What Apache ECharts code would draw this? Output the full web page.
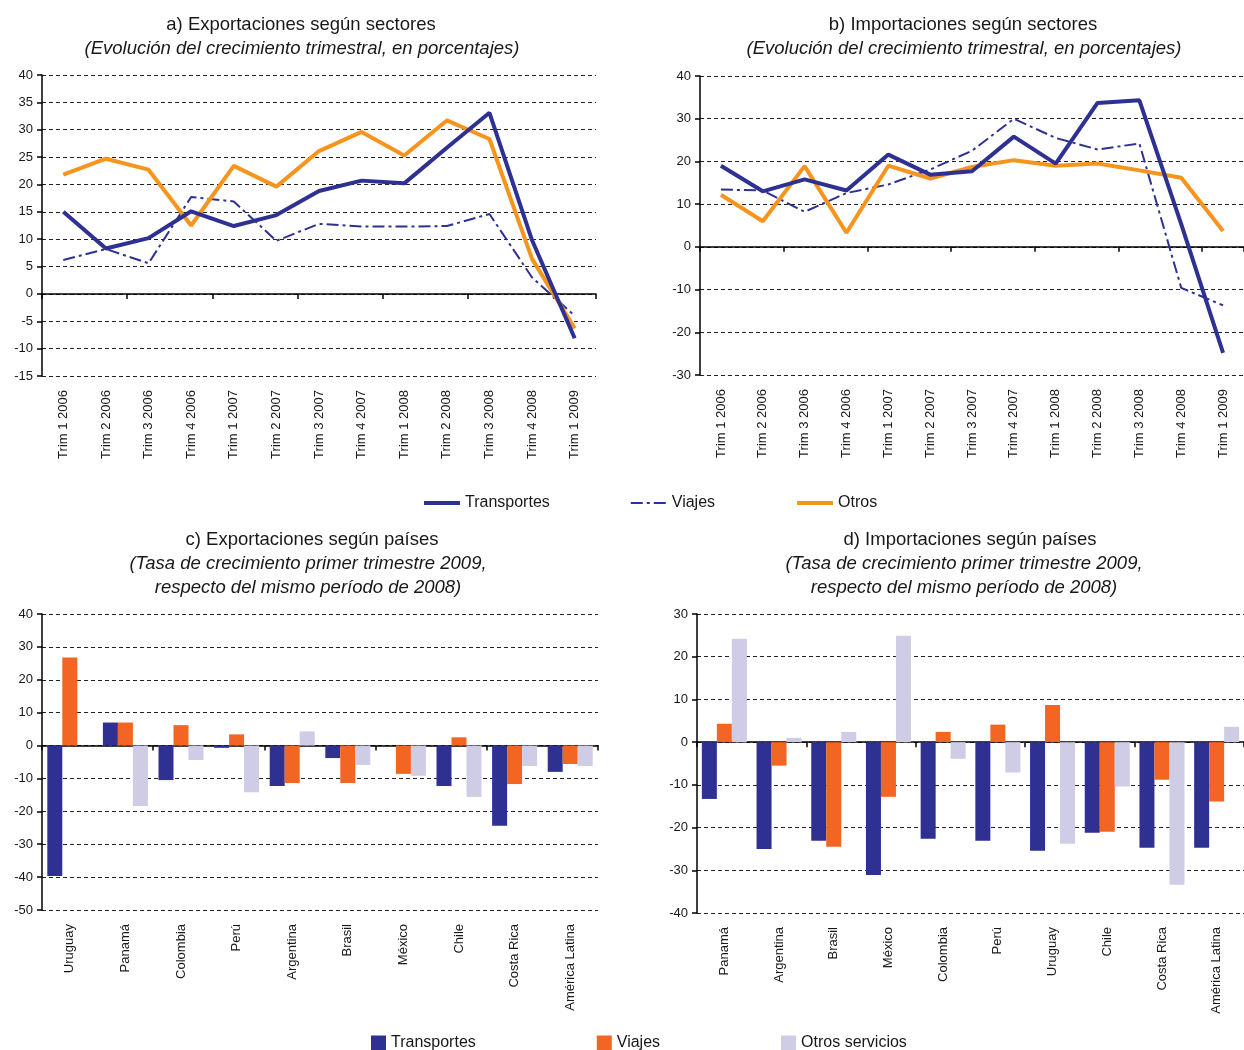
<!DOCTYPE html>
<html><head><meta charset="utf-8">
<script src="https://cdn.jsdelivr.net/npm/echarts@6/dist/echarts.min.js"></script>
<style>html,body{margin:0;background:#fff}#c{width:1244px;height:1050px}</style>
</head><body><div id="c"></div>
<script>
// quarters for panels a/b
const trimestres = ['Trim 1 2006','Trim 2 2006','Trim 3 2006','Trim 4 2006','Trim 1 2007','Trim 2 2007',
  'Trim 3 2007','Trim 4 2007','Trim 1 2008','Trim 2 2008','Trim 3 2008','Trim 4 2008','Trim 1 2009'];
// a) exports by sector
const expTransportes = [15.0, 8.3, 10.2, 15.1, 12.4, 14.4, 18.8, 20.7, 20.2, 26.7, 33.1, 9.8, -8.1];
const expViajes      = [6.2, 8.2, 5.6, 17.7, 16.9, 9.7, 12.8, 12.3, 12.3, 12.4, 14.6, 3.0, -4.0];
const expOtros       = [21.8, 24.7, 22.7, 12.5, 23.4, 19.6, 26.1, 29.6, 25.3, 31.7, 28.3, 6.4, -6.3];
// b) imports by sector
const impTransportes = [19.0, 13.0, 15.8, 13.2, 21.6, 16.9, 17.7, 25.8, 19.5, 33.7, 34.3, 5.3, -24.8];
const impViajes      = [13.4, 13.2, 8.2, 12.6, 14.6, 18.1, 22.5, 30.0, 25.5, 22.8, 24.2, -9.6, -13.7];
const impOtros       = [12.2, 6.0, 18.9, 3.3, 19.0, 16.0, 18.7, 20.3, 19.0, 19.5, 17.9, 16.2, 3.7];
// c) exports by country
const paisesExp = ['Uruguay','Panamá','Colombia','Perú','Argentina','Brasil','México','Chile','Costa Rica','América Latina'];
const cTransportes = [-39.7, 7.0, -10.5, -0.7, -12.3, -3.8, null, -12.3, -24.4, -8.0];
const cViajes      = [26.8, 7.0, 6.2, 3.4, -11.4, -11.4, -8.6, 2.5, -11.7, -5.6];
const cOtros       = [null, -18.4, -4.4, -14.2, 4.3, -5.9, -9.2, -15.6, -6.2, -6.2];
// d) imports by country
const paisesImp = ['Panamá','Argentina','Brasil','México','Colombia','Perú','Uruguay','Chile','Costa Rica','América Latina'];
const dTransportes = [-13.3, -25.0, -23.1, -31.1, -22.6, -23.1, -25.4, -21.2, -24.7, -24.7];
const dViajes      = [4.3, -5.5, -24.5, -12.8, 2.4, 4.1, 8.7, -21.0, -8.8, -13.9];
const dOtros       = [24.2, 1.0, 2.4, 24.9, -3.9, -7.1, -23.8, -10.4, -33.4, 3.6];

const BLUE = '#2E3192', ORANGE = '#F7941D', BAR_OR = '#F26522', LAV = '#CFCCE6', TXT = '#1A1718';
const F = 'Liberation Sans, Arial, Helvetica, sans-serif';
// bar series get their own ids so the two legends stay apart
const barLabel = {bT:'Transportes', bV:'Viajes', bO:'Otros servicios'};

const chart = echarts.init(document.getElementById('c'), null, {renderer:'canvas'});

function dataX(g, cats){
  return {type:'category', gridIndex:g, data:cats, position:'top',
    axisLine:{onZero:true, lineStyle:{color:'#000', width:1.5}},
    axisTick:{show:true, inside:true, length:5, lineStyle:{color:'#000', width:1.5}},
    axisLabel:{show:false}, splitLine:{show:false}};
}
function labelX(g, cats){
  return {type:'category', gridIndex:g, data:cats, position:'bottom',
    axisLine:{show:false, onZero:false}, axisTick:{show:false},
    axisLabel:{rotate:90, interval:0, margin:14, fontSize:13, color:TXT, fontFamily:F}};
}
function valY(g, min, max, step){
  return {type:'value', gridIndex:g, min, max, interval:step,
    axisLine:{show:true, lineStyle:{color:'#000', width:1.5}},
    axisTick:{show:true, length:5, lineStyle:{color:'#000', width:1.5}},
    axisLabel:{fontSize:13, color:TXT, fontFamily:F, margin:9},
    splitLine:{lineStyle:{type:[4,3], color:'#222', width:1}}};
}
function line(name, data, xi, yi){
  const thin = name === 'Viajes';
  return {type:'line', name, data, xAxisIndex:xi, yAxisIndex:yi, symbol:'none', z: thin?3:(name==='Otros'?4:5),
    lineStyle:{color: name==='Otros'?ORANGE:BLUE, width: thin?2:4, type: thin?[12,4,3,4]:'solid'},
    itemStyle:{color: name==='Otros'?ORANGE:BLUE}};
}
function bar(name, data, color, xi, yi){
  return {type:'bar', name, data, xAxisIndex:xi, yAxisIndex:yi, barWidth:15, barGap:'0%', itemStyle:{color}};
}
function ttl(text, x, y, italic){
  return {text, left:x, top:y, textAlign:'center', padding:0,
    textStyle:{fontSize:18.5, fontWeight:'normal', fontStyle: italic?'italic':'normal', color:TXT, fontFamily:F, lineHeight:24}};
}

chart.setOption({
  animation:false,
  backgroundColor:'#fff',
  title:[
    ttl('a) Exportaciones según sectores', 301, 13),
    ttl('(Evolución del crecimiento trimestral, en porcentajes)', 302, 37, true),
    ttl('b) Importaciones según sectores', 963, 13),
    ttl('(Evolución del crecimiento trimestral, en porcentajes)', 964, 37, true),
    ttl('c) Exportaciones según países', 312, 528),
    ttl('(Tasa de crecimiento primer trimestre 2009,\nrespecto del mismo período de 2008)', 308, 552, true),
    ttl('d) Importaciones según países', 970, 528),
    ttl('(Tasa de crecimiento primer trimestre 2009,\nrespecto del mismo período de 2008)', 964, 552, true)
  ],
  grid:[
    {left:42, top:75, width:554, height:301},
    {left:700, top:76, width:552, height:299},
    {left:42, top:614, width:556, height:296},
    {left:697, top:614, width:556, height:299}
  ],
  xAxis:[
    dataX(0, trimestres), labelX(0, trimestres),
    dataX(1, trimestres), labelX(1, trimestres),
    dataX(2, paisesExp), labelX(2, paisesExp),
    dataX(3, paisesImp), labelX(3, paisesImp)
  ],
  yAxis:[valY(0,-15,40,5), valY(1,-30,40,10), valY(2,-50,40,10), valY(3,-40,30,10)],
  legend:[
    {data:[{name:'Transportes', lineStyle:{width:4}}, {name:'Viajes', lineStyle:{width:2}}, {name:'Otros', lineStyle:{width:4}}],
      left:422, top:495, padding:0, itemWidth:36, itemHeight:12, itemGap:80,
      itemStyle:{opacity:0}, textStyle:{fontSize:16, color:TXT, fontFamily:F}},
    {data:['bT','bV','bO'], left:371, top:1035, padding:0, itemWidth:15, itemHeight:15, itemGap:121, icon:'rect',
      formatter: n => barLabel[n], textStyle:{fontSize:16, color:TXT, fontFamily:F}}
  ],
  series:[
    line('Viajes', expViajes, 0, 0), line('Otros', expOtros, 0, 0), line('Transportes', expTransportes, 0, 0),
    line('Viajes', impViajes, 2, 1), line('Otros', impOtros, 2, 1), line('Transportes', impTransportes, 2, 1),
    bar('bT', cTransportes, BLUE, 4, 2), bar('bV', cViajes, BAR_OR, 4, 2), bar('bO', cOtros, LAV, 4, 2),
    bar('bT', dTransportes, BLUE, 6, 3), bar('bV', dViajes, BAR_OR, 6, 3), bar('bO', dOtros, LAV, 6, 3)
  ]
});
</script>
</body></html>
